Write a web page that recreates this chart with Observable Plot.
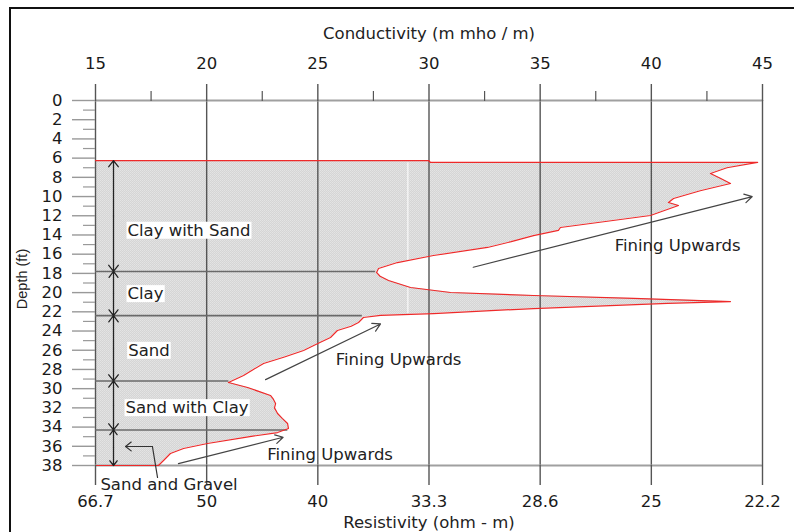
<!DOCTYPE html>
<html><head><meta charset="utf-8">
<script src="https://cdn.jsdelivr.net/npm/d3@7"></script>
<script src="https://cdn.jsdelivr.net/npm/@observablehq/plot@0.6"></script>
<style>
body{margin:0;background:#fff;}
#wrap{position:relative;width:794px;height:532px;overflow:hidden;}
#border{position:absolute;left:9px;top:7px;width:900px;height:900px;border-left:2.5px solid #111;border-top:2.5px solid #111;pointer-events:none;}
</style></head><body><div id="wrap"><div id="chart"></div><div id="border"></div></div>
<script>
// ---- data ----
const conductivityTicks = [15, 20, 25, 30, 35, 40, 45];
const conductivityMinor = [17.5, 22.5, 27.5, 32.5, 37.5, 42.5];
const resistivityLabels = ["66.7", "50", "40", "33.3", "28.6", "25", "22.2"];
const depthMajor = [0, 2, 4, 6, 8, 10, 12, 14, 16, 18, 20, 22, 24, 26, 28, 30, 32, 34, 36, 38];
const depthMinor = [1, 3, 5, 7, 9, 11, 13, 15, 17, 19, 21, 23, 25, 27, 29, 31, 33, 35, 37];

// conductivity log (m mho / m) vs depth (ft)
const logDepth = [6.25, 6.25, 6.45, 6.45, 7.0, 7.6, 8.1, 8.64, 9.4, 10.2, 10.62, 10.93, 11.97, 12.6, 13.22, 13.53, 14.06, 14.7, 15.3, 16.14, 16.87, 17.49, 17.9, 18.3, 18.74, 19.47, 19.99, 20.3, 20.61, 20.93, 21.13, 21.66, 22.18, 22.38, 22.59, 23.11, 23.5, 23.95, 24.67, 25.3, 26.03, 26.7, 27.38, 28.0, 28.63, 29.36, 29.88, 30.71, 31.1, 31.55, 32.0, 32.59, 33.1, 33.63, 34.15, 34.57, 35.09, 35.71, 36.23, 36.75, 37.48, 38.0, 38.0];
const logCond = [15, 29.98, 30.07, 44.78, 43.4, 42.66, 43.1, 43.56, 42.2, 41.0, 40.77, 41.22, 39.96, 37.94, 35.91, 35.82, 34.70, 33.7, 32.63, 30.20, 28.58, 27.73, 27.64, 27.8, 28.18, 29.17, 30.97, 34.70, 39.20, 43.56, 40.73, 34.70, 30.20, 27.82, 27.05, 26.83, 26.5, 25.88, 25.57, 25.0, 24.36, 23.5, 22.56, 22.1, 21.66, 20.98, 21.84, 22.87, 23.0, 23.10, 23.05, 23.19, 23.4, 23.64, 23.68, 23.19, 21.66, 20.04, 18.96, 18.37, 18.06, 17.83, 15];

// layer boundaries
const boundaryDepth = [17.8, 22.4, 29.2, 34.3];
const boundaryEnd = [27.6, 27.0, 21.0, 23.65];
const layerTop = [6.25, 17.8, 22.4, 29.2, 34.3];
const layerBottom = [17.8, 22.4, 29.2, 34.3, 38.0];
const layerArrowCond = 15.81;

const layerNames = ["Clay with Sand", "Clay", "Sand", "Sand with Clay"];
const layerLabelCond = [16.44, 16.44, 16.47, 16.35];
const layerLabelDepth = [13.53, 20.13, 26.03, 32.0];

const gravelLabel = "Sand and Gravel";
const gravelLabelCond = 15.22, gravelLabelDepth = 39.98;
const gravelArrowCond = [17.79, 17.56, 16.35];
const gravelArrowDepth = [39.25, 36.02, 36.02];

const finingText = "Fining Upwards";
const finingX1 = [31.99, 22.65, 18.73];
const finingY1 = [17.36, 29.06, 37.8];
const finingX2 = [44.54, 27.82, 23.44];
const finingY2 = [10.0, 23.26, 35.06];
const finingLabelX = [41.18, 28.63, 25.55];
const finingLabelY = [15.1, 27.0, 36.9];

// ---- build tables ----
const curve = logDepth.map((d, i) => ({depth: d, cond: logCond[i]}));
const bounds = boundaryDepth.map((d, i) => ({depth: d, end: boundaryEnd[i]}));
const layers = layerTop.map((t, i) => ({top: t, bottom: layerBottom[i], mid: (t + layerBottom[i]) / 2}));
const layerLabels = layerNames.map((n, i) => ({name: n, x: layerLabelCond[i], y: layerLabelDepth[i]}));
const gravelPath = gravelArrowCond.map((c, i) => ({x: c, y: gravelArrowDepth[i]}));
const gravelHead = [{x1: gravelArrowCond[1], y1: gravelArrowDepth[1], x2: gravelArrowCond[2], y2: gravelArrowDepth[2]}];
const fining = finingX1.map((x, i) => ({x1: x, y1: finingY1[i], x2: finingX2[i], y2: finingY2[i], lx: finingLabelX[i], ly: finingLabelY[i]}));
const xMin = conductivityTicks[0], xMax = conductivityTicks[conductivityTicks.length - 1];

const FILL = "#d9d9d9";
const plot = Plot.plot({
  width: 794, height: 532,
  marginLeft: 95, marginRight: 32, marginTop: 100, marginBottom: 67,
  style: {fontFamily: "'DejaVu Sans', sans-serif", fontSize: "16.5px", color: "#1a1a1a", background: "white", overflow: "visible"},
  x: {domain: [xMin, xMax], axis: null},
  y: {domain: [0, 38], reverse: true, axis: null},
  marks: [
    Plot.areaX(curve, {y: "depth", x1: xMin, x2: "cond", fill: FILL}),
    Plot.ruleX([29.05], {y1: 6.5, y2: 22.2, stroke: "white", strokeWidth: 1}),
    Plot.ruleX(conductivityTicks, {y1: 0, y2: 38, stroke: "#555", strokeWidth: 1.4}),
    Plot.ruleY([0, 38], {x1: xMin, x2: xMax, stroke: "#a0a0a0", strokeWidth: 2}),
    Plot.ruleY(bounds, {y: "depth", x1: xMin, x2: "end", stroke: "#6a6a6a", strokeWidth: 1.6}),
    Plot.line(curve, {x: "cond", y: "depth", stroke: "#ee2a2a", strokeWidth: 1.2}),
    Plot.axisX(conductivityTicks, {anchor: "top", tickSize: 17, tickPadding: 15, stroke: "#555", strokeWidth: 1.4, label: null, tickFormat: d => String(d)}),
    Plot.axisX(conductivityMinor, {anchor: "top", tickSize: 10, stroke: "#555", strokeWidth: 1.2, label: null, tickFormat: () => ""}),
    Plot.axisX(conductivityTicks, {anchor: "bottom", tickSize: 20, tickPadding: 10, stroke: "#555", strokeWidth: 1.4, label: null, tickFormat: d => resistivityLabels[conductivityTicks.indexOf(d)]}),
    Plot.axisY(depthMajor, {anchor: "left", tickSize: 23, tickPadding: 10, stroke: "#999", strokeWidth: 1.4, label: null, tickFormat: d => String(d)}),
    Plot.axisY(depthMinor, {anchor: "left", tickSize: 12, stroke: "#999", strokeWidth: 1.2, label: null, tickFormat: () => ""}),
    Plot.arrow(layers, {x1: layerArrowCond, x2: layerArrowCond, y1: "mid", y2: "top", stroke: "#222", strokeWidth: 1.3, headLength: 9, headAngle: 75}),
    Plot.arrow(layers, {x1: layerArrowCond, x2: layerArrowCond, y1: "mid", y2: "bottom", stroke: "#222", strokeWidth: 1.3, headLength: 9, headAngle: 75}),
    Plot.line(gravelPath, {x: "x", y: "y", stroke: "#333", strokeWidth: 1.2}),
    Plot.arrow(gravelHead, {x1: "x1", y1: "y1", x2: "x2", y2: "y2", stroke: "#333", strokeWidth: 1.2, headLength: 9, headAngle: 75}),
    Plot.arrow(fining, {x1: "x1", y1: "y1", x2: "x2", y2: "y2", stroke: "#444", strokeWidth: 1.2, headLength: 11}),
    Plot.text(fining, {x: "lx", y: "ly", text: () => finingText, fill: "#222"}),
    Plot.text(layerLabels, {x: "x", y: "y", text: "name", textAnchor: "start", fill: "#222"}),
    Plot.text([gravelLabel], {x: gravelLabelCond, y: gravelLabelDepth, textAnchor: "start", fill: "#222"}),
    Plot.text(["Conductivity (m mho / m)"], {frameAnchor: "top", lineAnchor: "middle", dy: -67, fill: "#222"}),
    Plot.text(["Resistivity (ohm - m)"], {frameAnchor: "bottom", lineAnchor: "middle", dy: 57, fill: "#222"}),
    Plot.text(["Depth (ft)"], {frameAnchor: "left", textAnchor: "middle", lineAnchor: "middle", dx: -73, dy: -4, rotate: -90, fontFamily: "'Liberation Sans', Arial, sans-serif", fontSize: 14.5, fill: "#222"})
  ]
});
document.getElementById("chart").appendChild(plot);

// dotted fill pattern
const ns = "http://www.w3.org/2000/svg";
const defs = document.createElementNS(ns, "defs");
defs.innerHTML = '<pattern id="dots" width="2" height="2" patternUnits="userSpaceOnUse"><rect width="2" height="2" fill="#d5d5d5"/><rect width="1" height="1" fill="#e4e4e4"/><rect x="1" y="1" width="1" height="1" fill="#e0e0e0"/></pattern>';
plot.insertBefore(defs, plot.firstChild);
plot.querySelectorAll('[fill="' + FILL + '"]').forEach(el => el.setAttribute("fill", "url(#dots)"));

// white boxes behind layer labels
const nameSet = new Set(layerNames);
plot.querySelectorAll("text").forEach(t => {
  if (!nameSet.has(t.textContent)) return;
  const b = t.getBBox();
  const r = document.createElementNS(ns, "rect");
  r.setAttribute("x", b.x - 1); r.setAttribute("y", b.y + 1);
  r.setAttribute("width", b.width + 2); r.setAttribute("height", b.height - 2);
  r.setAttribute("fill", "white");
  if (t.getAttribute("transform")) r.setAttribute("transform", t.getAttribute("transform"));
  t.parentNode.insertBefore(r, t);
});
</script></body></html>
